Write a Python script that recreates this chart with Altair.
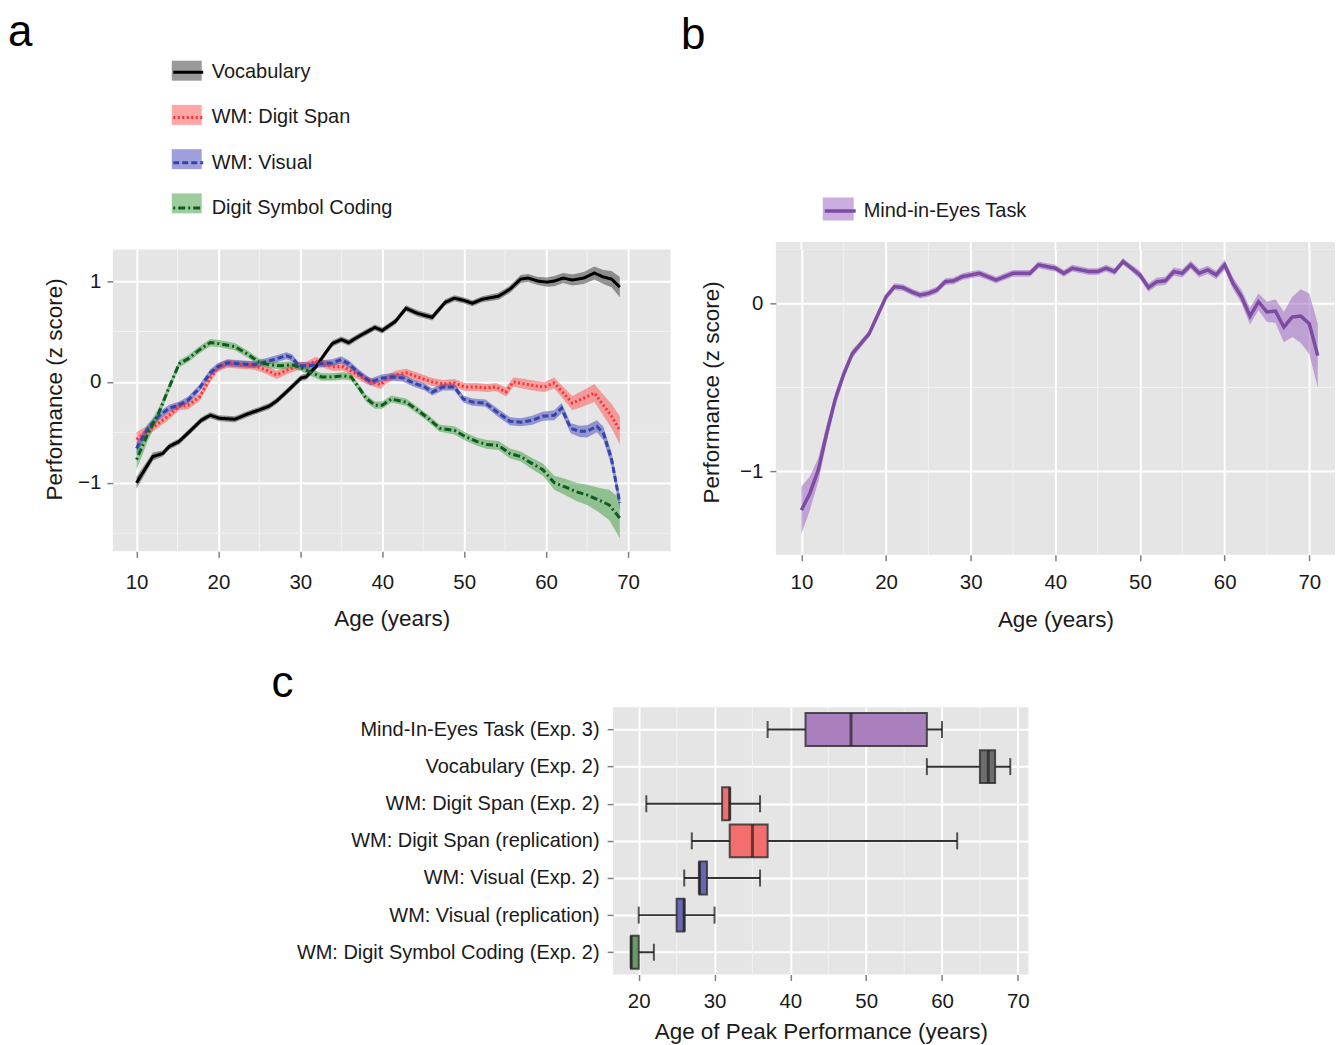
import altair as alt
import pandas as pd

FONT = "Liberation Sans"
TXT = "#1a1a1a"

# ---------------- Panel a data ----------------
series_a = ["Vocabulary", "WM: Digit Span", "WM: Visual", "Digit Symbol Coding"]
line_color_a = ["#000000", "#ff3030", "#3344aa", "#0d5c1f"]
band_color_a = ["#333333", "#ff4d4d", "#4040b8", "#3c9c3c"]
dash_a = [[1, 0], [2, 2.5], [6, 3], [2, 3, 7, 3]]

vocab_age = [10, 12, 13.2, 14, 15.2, 16.5, 17.9, 19, 20.1, 22, 23.5, 24.9, 26.2, 27.1, 28.3,
             30.1, 30.7, 31.9, 33, 33.9, 35, 35.9, 37.1, 39.1, 40, 41.6, 42.9, 44.3, 46.1, 47.7,
             48.8, 49.9, 51, 52.2, 54.2, 55.6, 56.9, 57.8, 59, 60.1, 61, 62.1, 63.2, 64.6, 65.9,
             67, 68, 69]
vocab_val = [-1.0, -0.74, -0.71, -0.64, -0.59, -0.49, -0.38, -0.33, -0.36, -0.37, -0.32, -0.28,
             -0.24, -0.19, -0.10, 0.04, 0.05, 0.15, 0.28, 0.38, 0.42, 0.39, 0.45, 0.54, 0.51, 0.60,
             0.73, 0.68, 0.64, 0.79, 0.83, 0.81, 0.78, 0.82, 0.85, 0.92, 1.02, 1.03, 1.00, 0.99,
             1.00, 1.03, 1.01, 1.03, 1.08, 1.04, 1.02, 0.94]
vocab_se = [0.06, 0.04, 0.03, 0.03, 0.03, 0.03, 0.03, 0.03, 0.03, 0.03, 0.03, 0.03, 0.03, 0.03,
            0.03, 0.03, 0.03, 0.03, 0.03, 0.03, 0.03, 0.03, 0.03, 0.03, 0.03, 0.03, 0.03, 0.03,
            0.03, 0.03, 0.03, 0.03, 0.03, 0.03, 0.035, 0.035, 0.04, 0.04, 0.04, 0.045, 0.05, 0.05,
            0.055, 0.06, 0.065, 0.07, 0.08, 0.10]

span_age = [10, 11.4, 12.7, 14, 15.2, 16.3, 17.7, 19, 19.9, 21.1, 22.6, 24.4, 25.8, 27.1, 28.5,
            29.8, 30.7, 31.9, 32.8, 33.9, 35.3, 36.6, 38, 39.8, 40.4, 41.6, 42.9, 44.3, 46.1, 47.4,
            48.8, 50.1, 51.5, 52.8, 53.9, 55.1, 56, 57.4, 58.8, 59.8, 61, 62.1, 63.2, 64.6, 65.9,
            66.8, 68, 69]
span_val = [-0.57, -0.48, -0.41, -0.33, -0.24, -0.23, -0.15, 0.04, 0.14, 0.18, 0.17, 0.16, 0.12,
            0.07, 0.12, 0.16, 0.16, 0.21, 0.18, 0.15, 0.15, 0.09, 0.02, -0.03, 0.02, 0.07, 0.09,
            0.05, 0.00, -0.02, -0.01, -0.05, -0.05, -0.06, -0.05, -0.10, 0.00, -0.02, -0.04, -0.05,
            -0.01, -0.11, -0.21, -0.16, -0.11, -0.21, -0.34, -0.48]
span_se = [0.07, 0.05, 0.04, 0.04, 0.04, 0.04, 0.04, 0.04, 0.04, 0.04, 0.04, 0.04, 0.04, 0.04,
           0.04, 0.04, 0.04, 0.04, 0.04, 0.04, 0.04, 0.04, 0.04, 0.04, 0.04, 0.04, 0.04, 0.04,
           0.04, 0.04, 0.04, 0.04, 0.04, 0.04, 0.04, 0.045, 0.045, 0.05, 0.05, 0.05, 0.055, 0.06,
           0.07, 0.08, 0.09, 0.10, 0.12, 0.14]

vis_age = [10, 11.4, 12.7, 14, 15.2, 16.3, 17.7, 19, 19.9, 21.1, 22.6, 24.4, 25.8, 27.1, 28.3,
           29, 29.8, 31.2, 32.6, 33.9, 35, 35.9, 37.1, 38.6, 40, 41.1, 42.5, 43.8, 45.2, 46.1,
           47.4, 48.8, 49.9, 51, 52.6, 54.2, 55.6, 56.9, 58.3, 59.6, 61, 61.9, 63, 64.1, 65,
           66.2, 67, 68, 69]
vis_val = [-0.66, -0.46, -0.34, -0.26, -0.23, -0.18, -0.06, 0.09, 0.15, 0.19, 0.18, 0.17, 0.20,
           0.23, 0.26, 0.24, 0.16, 0.16, 0.18, 0.19, 0.22, 0.18, 0.09, 0.00, 0.04, 0.05, 0.04,
           -0.01, -0.05, -0.10, -0.05, -0.05, -0.17, -0.20, -0.21, -0.31, -0.39, -0.40, -0.38,
           -0.34, -0.33, -0.26, -0.46, -0.49, -0.49, -0.44, -0.51, -0.77, -1.20]
vis_se = [0.06, 0.045, 0.04, 0.035, 0.035, 0.035, 0.035, 0.035, 0.035, 0.035, 0.035, 0.035,
          0.035, 0.035, 0.035, 0.035, 0.035, 0.035, 0.035, 0.035, 0.035, 0.035, 0.035, 0.035,
          0.035, 0.035, 0.035, 0.035, 0.035, 0.035, 0.035, 0.035, 0.035, 0.035, 0.035, 0.04,
          0.04, 0.04, 0.045, 0.045, 0.05, 0.05, 0.05, 0.055, 0.06, 0.06, 0.065, 0.07, 0.07]

dsc_age = [10, 11.4, 12.7, 14, 15.2, 16.3, 17.7, 19, 20.1, 22, 23.5, 24.9, 26.2, 27.6, 29,
           30.1, 31.4, 32.6, 33.9, 35.3, 36.2, 37.1, 38, 39.1, 40, 41.1, 42.9, 44.3, 45.6, 47,
           48.8, 50.1, 51.5, 52.8, 54.2, 55.6, 56.9, 58.3, 59.6, 61, 62.3, 63.7, 65, 66.4, 67.7,
           69]
dsc_val = [-0.77, -0.51, -0.31, -0.05, 0.18, 0.23, 0.32, 0.39, 0.38, 0.35, 0.28, 0.20, 0.17,
           0.16, 0.17, 0.14, 0.09, 0.05, 0.05, 0.06, 0.05, -0.05, -0.16, -0.23, -0.23, -0.17,
           -0.20, -0.28, -0.36, -0.46, -0.48, -0.54, -0.59, -0.62, -0.63, -0.71, -0.74, -0.81,
           -0.87, -1.00, -1.04, -1.09, -1.12, -1.17, -1.22, -1.35]
dsc_se = [0.10, 0.07, 0.05, 0.04, 0.035, 0.035, 0.035, 0.035, 0.035, 0.035, 0.035, 0.035, 0.035,
          0.035, 0.035, 0.035, 0.035, 0.035, 0.035, 0.035, 0.035, 0.035, 0.035, 0.035, 0.035,
          0.035, 0.035, 0.035, 0.035, 0.035, 0.04, 0.04, 0.04, 0.045, 0.045, 0.05, 0.05, 0.055,
          0.06, 0.07, 0.08, 0.09, 0.10, 0.12, 0.15, 0.20]

# ---------------- Panel b data ----------------
series_b = ["Mind-in-Eyes Task"]
line_color_b = ["#7d4ba3"]
band_color_b = ["#9a5bbf"]
mie_age = list(range(10, 72))
mie_val = [-1.23, -1.13, -0.99, -0.77, -0.57, -0.42, -0.30, -0.24, -0.18, -0.07,
           0.04, 0.10, 0.095, 0.07, 0.05, 0.06, 0.08, 0.13, 0.135, 0.16,
           0.17, 0.18, 0.16, 0.14, 0.16, 0.18, 0.18, 0.18, 0.23, 0.22,
           0.21, 0.18, 0.21, 0.20, 0.19, 0.19, 0.21, 0.19, 0.25, 0.21,
           0.17, 0.095, 0.13, 0.135, 0.19, 0.18, 0.23, 0.18, 0.20, 0.17,
           0.23, 0.12, 0.04, -0.075, 0.01, -0.05, -0.045, -0.14, -0.08, -0.075,
           -0.12, -0.31]
mie_se = [0.14, 0.10, 0.07, 0.05, 0.04, 0.03, 0.025, 0.02, 0.02, 0.02,
          0.02, 0.02, 0.02, 0.02, 0.02, 0.02, 0.02, 0.02, 0.02, 0.02,
          0.02, 0.02, 0.02, 0.02, 0.02, 0.02, 0.02, 0.02, 0.02, 0.02,
          0.02, 0.02, 0.02, 0.02, 0.02, 0.02, 0.02, 0.02, 0.02, 0.02,
          0.025, 0.025, 0.025, 0.025, 0.025, 0.025, 0.025, 0.025, 0.025, 0.025,
          0.03, 0.035, 0.04, 0.05, 0.05, 0.06, 0.07, 0.09, 0.12, 0.16,
          0.18, 0.19]

# ---------------- Panel c data ----------------
cats_c = ["Mind-In-Eyes Task (Exp. 3)", "Vocabulary (Exp. 2)", "WM: Digit Span (Exp. 2)",
          "WM: Digit Span (replication)", "WM: Visual (Exp. 2)", "WM: Visual (replication)",
          "WM: Digit Symbol Coding (Exp. 2)"]
whis_lo = [37, 58, 21, 27, 26, 20, 19]
box_q1 = [42, 65, 31, 32, 28, 25, 19]
box_med = [48, 66.1, 32, 35, 28, 26, 19]
box_q3 = [58, 67, 32, 37, 29, 26, 20]
whis_hi = [60, 69, 36, 62, 36, 30, 22]
box_colors = ["#a97fbd", "#6d6d6d", "#f46e6e", "#f46e6e", "#6767b5", "#6767b5", "#699a65"]

# ---------------- tables ----------------
# the ribbon (fill) legend sits under the line legend; its keys get a trailing space so
# that Vega-Lite keeps the two legends apart instead of merging them
def make_rows(name, ages, vals, ses, sfield, bfield):
    return [{sfield: name, bfield: name + " ", "age": a, "val": v, "lo": v - s, "hi": v + s}
            for a, v, s in zip(ages, vals, ses)]

rows_a = (make_rows(series_a[0], vocab_age, vocab_val, vocab_se, "series", "band")
          + make_rows(series_a[1], span_age, span_val, span_se, "series", "band")
          + make_rows(series_a[2], vis_age, vis_val, vis_se, "series", "band")
          + make_rows(series_a[3], dsc_age, dsc_val, dsc_se, "series", "band"))
df_a = pd.DataFrame(rows_a)
df_b = pd.DataFrame(make_rows(series_b[0], mie_age, mie_val, mie_se, "task", "taskband"))
df_c = pd.DataFrame({"cat": cats_c, "lo": whis_lo, "q1": box_q1, "med": box_med,
                     "q3": box_q3, "hi": whis_hi})

LAB = 20.5
TIT = 22.5
PANEL = "#E5E5E5"
MINOR = "#F2F2F2"
axis_common = dict(grid=True, gridColor="white", gridWidth=2, domain=False,
                   tickColor="#7f7f7f", tickSize=6, tickWidth=1.5,
                   labelFont=FONT, labelFontSize=LAB, labelColor=TXT,
                   titleFont=FONT, titleFontSize=TIT, titleColor=TXT, titleFontWeight="normal")
ticks_x = [10, 20, 30, 40, 50, 60, 70]
minor_x = [15, 25, 35, 45, 55, 65]


def letter(ch, x, y):
    return alt.Chart(pd.DataFrame({"t": [ch]})).mark_text(
        fontSize=44, align="left", baseline="alphabetic", font=FONT, color="black"
    ).encode(text="t:N", x=alt.value(x), y=alt.value(y))


def ribbon_panel(df, sfield, bfield, series, line_colors, band_colors, dashes, xdom, ydom,
                 yvals, yminor, w, h, lx, ly, sym_path, sym_size, line_w, lab_off,
                 row_pad, ch, chx, chy, xlp, xtp, ylp, ytp, ty, strip_top=None):
    xs = alt.Scale(domain=xdom, nice=False, zero=False)
    ys = alt.Scale(domain=ydom, nice=False, zero=False)
    xax = alt.Axis(title="Age (years)", values=ticks_x, labelPadding=xlp, titlePadding=xtp,
                   **axis_common)
    yax = alt.Axis(title="Performance (z score)", values=yvals, labelPadding=ylp,
                   titlePadding=ytp, titleY=ty, **axis_common)
    layers = []
    if strip_top is not None:
        # panel background continues a little above the plotted range
        strip = pd.DataFrame({"y0": [strip_top], "y1": [ydom[1]]})
        layers.append(alt.Chart(strip).mark_rect(color=PANEL).encode(
            x=alt.value(0), x2=alt.value(w),
            y=alt.Y("y0:Q", scale=ys, axis=yax), y2="y1:Q"))
        gmaj = pd.DataFrame({"age": ticks_x, "y0": strip_top, "y1": ydom[1]})
        gmin = pd.DataFrame({"age": minor_x, "y0": strip_top, "y1": ydom[1]})
        layers.append(alt.Chart(gmin).mark_rule(color=MINOR, strokeWidth=1).encode(
            x=alt.X("age:Q", scale=xs, axis=xax), y=alt.Y("y0:Q", scale=ys, axis=yax),
            y2="y1:Q"))
        layers.append(alt.Chart(gmaj).mark_rule(color="white", strokeWidth=2).encode(
            x=alt.X("age:Q", scale=xs, axis=xax), y=alt.Y("y0:Q", scale=ys, axis=yax),
            y2="y1:Q"))
    gx = alt.Chart(pd.DataFrame({"age": minor_x})).mark_rule(color=MINOR, strokeWidth=1).encode(
        x=alt.X("age:Q", scale=xs, axis=xax))
    gy = alt.Chart(pd.DataFrame({"val": yminor})).mark_rule(color=MINOR, strokeWidth=1).encode(
        y=alt.Y("val:Q", scale=ys, axis=yax))
    leg_common = dict(title=None, orient="none", legendX=lx, legendY=ly, direction="vertical",
                      symbolSize=sym_size, labelFontSize=20, labelFont=FONT, labelColor=TXT,
                      labelOffset=lab_off, rowPadding=row_pad, padding=0, labelLimit=400)
    band = alt.Chart(df).mark_area(opacity=0.5).encode(
        x=alt.X("age:Q", scale=xs, axis=xax),
        y=alt.Y("lo:Q", scale=ys, axis=yax),
        y2="hi:Q",
        fill=alt.Fill(bfield + ":N",
                      scale=alt.Scale(domain=[s + " " for s in series], range=band_colors),
                      legend=alt.Legend(symbolType=sym_path, symbolStrokeWidth=0,
                                        symbolOpacity=0.5, labelOpacity=0, **leg_common)),
    )
    line_leg = alt.Legend(symbolType="stroke", symbolStrokeWidth=line_w, **leg_common)
    line = alt.Chart(df).mark_line(strokeWidth=line_w).encode(
        x=alt.X("age:Q", scale=xs, axis=xax),
        y=alt.Y("val:Q", scale=ys, axis=yax),
        stroke=alt.Stroke(sfield + ":N", scale=alt.Scale(domain=series, range=line_colors),
                          legend=line_leg),
        strokeDash=alt.StrokeDash(sfield + ":N", scale=alt.Scale(domain=series, range=dashes),
                                  legend=line_leg),
    )
    layers += [gx, gy, band, line, letter(ch, chx, chy)]
    return alt.layer(*layers).properties(width=w, height=h)


panel_a = ribbon_panel(df_a, "series", "band", series_a, line_color_a, band_color_a, dash_a,
                       [7.11, 75.2], [-1.68, 1.314], [-1, 0, 1], [-1.5, -0.5, 0.5],
                       558.6, 302.4, 59, -194,
                       "M-1,-0.667H1V0.667H-1Z", 900, 3, 7, 18.3,
                       "a", -105, -204, 15, 14.5, 6, 11, 139.7)

panel_b = ribbon_panel(df_b, "task", "taskband", series_b, line_color_b, band_color_b, [[1, 0]],
                       [6.98, 73.04], [-1.495, 0.322], [-1, 0], [-0.5],
                       560, 305.7, 47, -56,
                       "M-1,-0.742H1V0.742H-1Z", 961, 3.5, 6, 15,
                       "b", -95, -201, 12, 15, 7, 16, 142.7, strip_top=0.366)

# ---------------- Panel c ----------------
xs_c = alt.Scale(domain=[16.62, 71.4], nice=False, zero=False)
ys_c = alt.Scale(type="point", domain=cats_c, padding=0.6)
xax_c = alt.Axis(title="Age of Peak Performance (years)", values=[20, 30, 40, 50, 60, 70],
                 labelPadding=11, titlePadding=9, **axis_common)
yax_c = alt.Axis(title=None, labelPadding=8, labelLimit=400,
                 **{**axis_common, "labelFontSize": 20})
X = lambda f: alt.X(f + ":Q", scale=xs_c, axis=xax_c)
Y = alt.Y("cat:N", scale=ys_c, axis=yax_c, sort=cats_c)

gx_c = alt.Chart(pd.DataFrame({"lo": [25, 35, 45, 55, 65]})).mark_rule(
    color=MINOR, strokeWidth=1).encode(x=X("lo"))
whisk = alt.Chart(df_c).mark_rule(color="#333333", strokeWidth=2).encode(
    x=X("lo"), x2="hi:Q", y=Y)
cap_lo = alt.Chart(df_c).mark_tick(color="#111111", thickness=2, size=17).encode(x=X("lo"), y=Y)
cap_hi = alt.Chart(df_c).mark_tick(color="#111111", thickness=2, size=17).encode(x=X("hi"), y=Y)
boxes = alt.Chart(df_c).mark_bar(height=33, stroke="#333333", strokeWidth=2,
                                 strokeOpacity=0.85).encode(
    x=X("q1"), x2="q3:Q", y=Y,
    fill=alt.Fill("cat:N", scale=alt.Scale(domain=cats_c, range=box_colors), legend=None))
medians = alt.Chart(df_c).mark_tick(color="#222222", thickness=3, size=33).encode(
    x=X("med"), y=Y)
panel_c = alt.layer(gx_c, whisk, cap_lo, cap_hi, boxes, medians,
                    letter("c", -342, -10)).properties(width=416, height=267.7)

spacer = alt.Chart(pd.DataFrame({"v": [0]})).mark_point(opacity=0).encode(
    x=alt.value(0), y=alt.value(0)).properties(
    width=159, height=20, view=alt.ViewBackground(fill="white", stroke=None))

indep = dict(fill="independent", stroke="independent", strokeDash="independent",
             x="independent", y="independent")

top = alt.hconcat(panel_a, panel_b, spacing=9).resolve_scale(**indep)
bottom = alt.hconcat(spacer, panel_c, spacing=0).resolve_scale(**indep)

chart = alt.vconcat(top, bottom, spacing=31.5).resolve_scale(**indep).properties(
    padding={"top": 2, "left": 0, "right": 0, "bottom": 0}).configure(
    font=FONT).configure_view(fill=PANEL, stroke=None)

chart.save("out.html", embed_options={"renderer": "svg", "actions": False})
